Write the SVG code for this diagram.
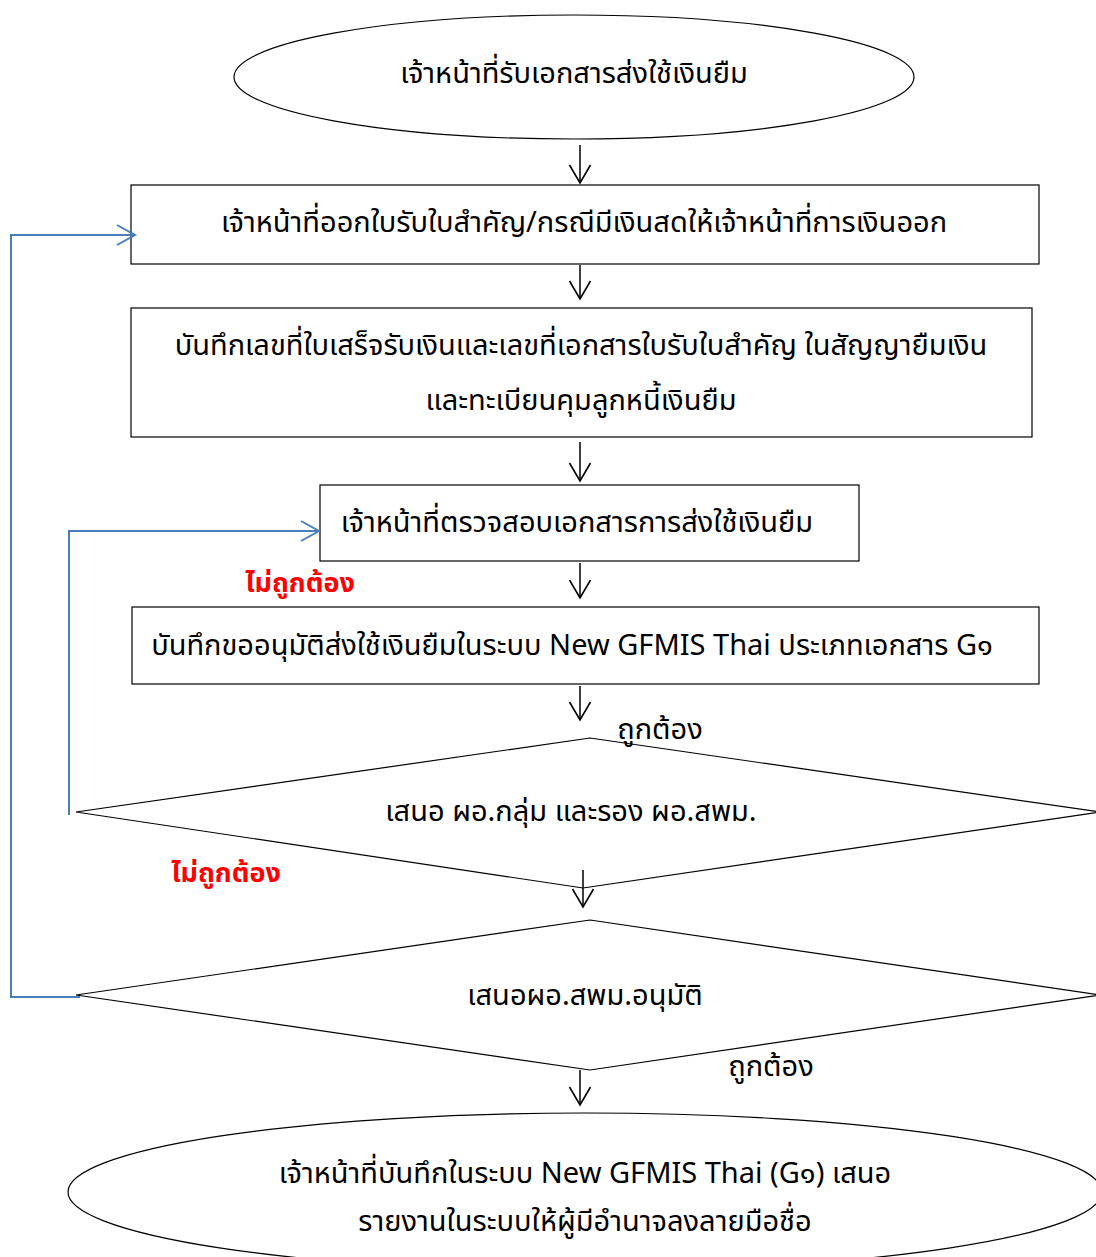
<svg xmlns="http://www.w3.org/2000/svg" width="1096" height="1257" viewBox="0 0 1096 1257">
<defs>
<style>
.n{fill:#fff;stroke:#000;stroke-width:1.2}
.t{font-family:"Noto Sans Thai","Noto Sans","Liberation Sans",sans-serif;font-size:29px;fill:#000;text-anchor:middle}
.r{font-family:"Noto Sans Thai","Noto Sans","Liberation Sans",sans-serif;font-size:27px;fill:#ff0000;font-weight:bold;text-anchor:middle}
.a{stroke:#000;stroke-width:1.5;fill:none}
.b{stroke:#4a7ebb;stroke-width:2;fill:none}
</style>
<marker id="ah" markerWidth="22" markerHeight="24" refX="19" refY="12" orient="auto" markerUnits="userSpaceOnUse">
<path d="M1,1.5 L19,12 L1,22.5" fill="none" stroke="#000" stroke-width="1.6"/>
</marker>
<marker id="bh" markerWidth="22" markerHeight="24" refX="19" refY="12" orient="auto" markerUnits="userSpaceOnUse">
<path d="M1,2 L19,12 L1,22" fill="none" stroke="#4a7ebb" stroke-width="2"/>
</marker>
</defs>
<rect width="1096" height="1257" fill="#fff"/>
<g id="start">
<ellipse class="n" cx="574" cy="77" rx="340" ry="62"/>
<text class="t" x="574" y="83">เจ้าหน้าที่รับเอกสารส่งใช้เงินยืม</text>
</g>
<g id="box1">
<rect class="n" x="131" y="185" width="908" height="79"/>
<text class="t" x="584" y="232">เจ้าหน้าที่ออกใบรับใบสำคัญ/กรณีมีเงินสดให้เจ้าหน้าที่การเงินออก</text>
</g>
<g id="box2">
<rect class="n" x="131" y="308" width="901" height="129"/>
<text class="t" x="581" y="355">บันทึกเลขที่ใบเสร็จรับเงินและเลขที่เอกสารใบรับใบสำคัญ ในสัญญายืมเงิน</text>
<text class="t" x="581" y="410">และทะเบียนคุมลูกหนี้เงินยืม</text>
</g>
<g id="box3">
<rect class="n" x="320" y="485" width="539" height="76"/>
<text class="t" x="577" y="532">เจ้าหน้าที่ตรวจสอบเอกสารการส่งใช้เงินยืม</text>
</g>
<g id="box4">
<rect class="n" x="132" y="607" width="907" height="77"/>
<text class="t" x="572" y="655">บันทึกขออนุมัติส่งใช้เงินยืมในระบบ New GFMIS Thai ประเภทเอกสาร G๑</text>
</g>
<g id="dec1">
<polygon class="n" points="590,738 1100,812 583,888 76,812"/>
<text class="t" x="571" y="821">เสนอ ผอ.กลุ่ม และรอง ผอ.สพม.</text>
</g>
<g id="dec2">
<polygon class="n" points="590,920 1100,995 590,1070 76,995"/>
<text class="t" x="585" y="1005">เสนอผอ.สพม.อนุมัติ</text>
</g>
<g id="end">
<ellipse class="n" cx="585" cy="1192" rx="517" ry="79"/>
<text class="t" x="585" y="1183">เจ้าหน้าที่บันทึกในระบบ New GFMIS Thai (G๑) เสนอ</text>
<text class="t" x="585" y="1231">รายงานในระบบให้ผู้มีอำนาจลงลายมือชื่อ</text>
</g>
<g id="connectors">
<line class="a" x1="580" y1="145" x2="580" y2="183" marker-end="url(#ah)"/>
<line class="a" x1="580" y1="265" x2="580" y2="299" marker-end="url(#ah)"/>
<line class="a" x1="580" y1="442" x2="580" y2="481" marker-end="url(#ah)"/>
<line class="a" x1="580" y1="563" x2="580" y2="598" marker-end="url(#ah)"/>
<line class="a" x1="580" y1="686" x2="580" y2="720" marker-end="url(#ah)"/>
<line class="a" x1="583" y1="870" x2="583" y2="907" marker-end="url(#ah)"/>
<line class="a" x1="580" y1="1070" x2="580" y2="1105" marker-end="url(#ah)"/>
<polyline class="b" points="80,997 11,997 11,235 135,235" marker-end="url(#bh)"/>
<polyline class="b" points="69,815 69,531 319,531" marker-end="url(#bh)"/>
<text class="t" x="660" y="739">ถูกต้อง</text>
<text class="t" x="771" y="1076">ถูกต้อง</text>
<text class="r" x="300" y="592">ไม่ถูกต้อง</text>
<text class="r" x="226" y="882">ไม่ถูกต้อง</text>
</g>
</svg>
